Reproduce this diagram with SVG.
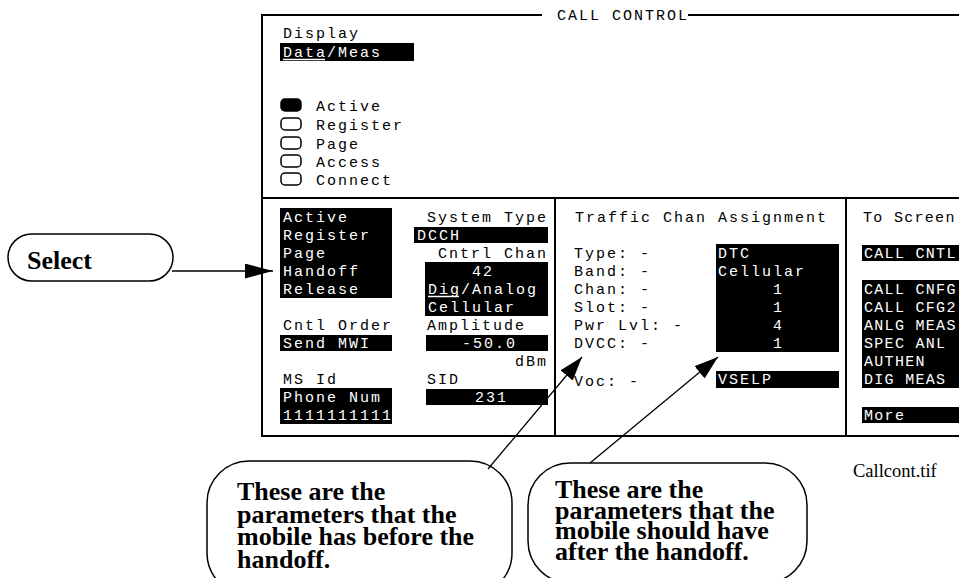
<svg xmlns="http://www.w3.org/2000/svg" width="959" height="578" viewBox="0 0 959 578">
<style>
.s{font-family:"Liberation Mono","DejaVu Sans Mono",monospace;font-size:15px;letter-spacing:2px;fill:#000}
.n{letter-spacing:1.3px}
.w{fill:#fff}
.fr{stroke:#000;stroke-width:2;fill:none}
.ul{stroke:#fff;stroke-width:1.5}
.rb{fill:#fff;stroke:#000;stroke-width:1.5}
.co{fill:#fff;stroke:#000;stroke-width:1.5}
.ct{font-family:"Liberation Serif","Times New Roman",serif;font-weight:bold;font-size:26px;fill:#000}
.ld{stroke:#000;stroke-width:1.3;fill:none}
</style>
<defs>
<marker id="ah" markerUnits="userSpaceOnUse" markerWidth="24" markerHeight="16" refX="24" refY="8" orient="auto"><path d="M0,0 L24,8 L0,16 z" fill="#000"/></marker>
<marker id="ah2" markerUnits="userSpaceOnUse" markerWidth="28" markerHeight="15" refX="28" refY="7.5" orient="auto"><path d="M0,0 L28,7.5 L0,15 z" fill="#000"/></marker>
</defs>

<g id="screen">
  <path class="fr" d="M262,15 H542 M688,15 H959 M262,14 V437 M262,198 H959 M262,436 H959 M555,198 V436 M846,198 V436"/>
  <text class="s" x="557" y="20">CALL CONTROL</text>

  <g id="display-section">
    <text class="s" x="283" y="38">Display</text>
    <rect x="280" y="43" width="134" height="18" fill="#000"/>
    <text class="s w" x="283" y="57">Data/Meas</text>
    <line class="ul" x1="283" y1="59.5" x2="325" y2="59.5"/>
    <rect x="281" y="99" width="20" height="12" rx="4" fill="#000" stroke="#000" stroke-width="1.5"/>
    <rect class="rb" x="281" y="118" width="20" height="12" rx="4"/>
    <rect class="rb" x="281" y="137" width="20" height="12" rx="4"/>
    <rect class="rb" x="281" y="155" width="20" height="12" rx="4"/>
    <rect class="rb" x="281" y="173" width="20" height="12" rx="4"/>
    <text class="s" x="316" y="110.5">Active</text>
    <text class="s" x="316" y="129.5">Register</text>
    <text class="s" x="316" y="148.5">Page</text>
    <text class="s" x="316" y="166.5">Access</text>
    <text class="s" x="316" y="184.5">Connect</text>
  </g>

  <g id="left-column">
    <rect x="280" y="208" width="112" height="90" fill="#000"/>
    <text class="s w" x="283" y="222">Active</text>
    <text class="s w" x="283" y="240">Register</text>
    <text class="s w" x="283" y="258">Page</text>
    <text class="s w" x="283" y="276">Handoff</text>
    <text class="s w" x="283" y="294">Release</text>
    <text class="s" x="283" y="330">Cntl Order</text>
    <rect x="280" y="335" width="112" height="16" fill="#000"/>
    <text class="s w" x="283" y="348">Send MWI</text>
    <text class="s" x="283" y="384">MS Id</text>
    <rect x="280" y="388" width="112" height="36" fill="#000"/>
    <text class="s w" x="283" y="402">Phone Num</text>
    <text class="s w" x="283" y="420">1111111111</text>
  </g>

  <g id="middle-column">
    <text class="s" x="427" y="222">System Type</text>
    <rect x="414" y="227" width="134" height="16" fill="#000"/>
    <text class="s w" x="417" y="240">DCCH</text>
    <text class="s" x="438" y="258">Cntrl Chan</text>
    <rect x="425" y="262" width="123" height="54" fill="#000"/>
    <text class="s w" x="472" y="276">42</text>
    <text class="s w" x="428" y="294">Dig/Analog</text>
    <line class="ul" x1="428" y1="296.5" x2="459" y2="296.5"/>
    <text class="s w" x="428" y="312">Cellular</text>
    <text class="s" x="427" y="330">Amplitude</text>
    <rect x="426" y="335" width="122" height="16" fill="#000"/>
    <text class="s w" x="462" y="348">-50.0</text>
    <text class="s" x="515" y="366">dBm</text>
    <text class="s" x="427" y="384">SID</text>
    <rect x="426" y="389" width="122" height="16" fill="#000"/>
    <text class="s w" x="475" y="402">231</text>
  </g>

  <g id="traffic-panel">
    <text class="s" x="575" y="222">Traffic Chan Assignment</text>
    <text class="s" x="574" y="258">Type: -</text>
    <text class="s" x="574" y="276">Band: -</text>
    <text class="s" x="574" y="294">Chan: -</text>
    <text class="s" x="574" y="312">Slot: -</text>
    <text class="s" x="574" y="330">Pwr Lvl: -</text>
    <text class="s" x="574" y="348">DVCC: -</text>
    <text class="s" x="574" y="386">Voc: -</text>
    <rect x="716" y="244" width="123" height="108" fill="#000"/>
    <text class="s w" x="718" y="258">DTC</text>
    <text class="s w" x="718" y="276">Cellular</text>
    <text class="s w" x="773" y="294">1</text>
    <text class="s w" x="773" y="312">1</text>
    <text class="s w" x="773" y="330">4</text>
    <text class="s w" x="773" y="348">1</text>
    <rect x="716" y="371" width="123" height="17" fill="#000"/>
    <text class="s w" x="718" y="384">VSELP</text>
  </g>

  <g id="to-screen">
    <text class="s n" x="863" y="222">To Screen</text>
    <rect x="862" y="245" width="97" height="16" fill="#000"/>
    <text class="s w n" x="864" y="258">CALL CNTL</text>
    <rect x="862" y="280" width="97" height="108" fill="#000"/>
    <text class="s w n" x="864" y="294">CALL CNFG</text>
    <text class="s w n" x="864" y="312">CALL CFG2</text>
    <text class="s w n" x="864" y="330">ANLG MEAS</text>
    <text class="s w n" x="864" y="348">SPEC ANL</text>
    <text class="s w n" x="864" y="366">AUTHEN</text>
    <text class="s w n" x="864" y="384">DIG MEAS</text>
    <rect x="862" y="407" width="97" height="16" fill="#000"/>
    <text class="s w n" x="864" y="420">More</text>
  </g>
</g>

<g id="select-callout">
  <rect class="co" x="8" y="234" width="165" height="47" rx="23.5"/>
  <text class="ct" x="27" y="269">Select</text>
</g>

<g id="before-callout">
  <rect class="co" x="207" y="461" width="305" height="134" rx="42" ry="42"/>
  <text class="ct"><tspan x="237" y="500">These are the</tspan><tspan x="237" y="522.7">parameters that the</tspan><tspan x="237" y="545.4">mobile has before the</tspan><tspan x="237" y="568">handoff.</tspan></text>
</g>

<g id="after-callout">
  <rect class="co" x="528" y="463" width="279" height="120" rx="42" ry="42"/>
  <text class="ct"><tspan x="555" y="498">These are the</tspan><tspan x="555" y="518.5">parameters that the</tspan><tspan x="555" y="539">mobile should have</tspan><tspan x="555" y="559.5">after the handoff.</tspan></text>
</g>

<g id="caption">
  <text x="853" y="477" font-family="Liberation Serif, Times New Roman, serif" font-size="18.5" fill="#000">Callcont.tif</text>
</g>

<g id="connectors">
  <line class="ld" x1="172" y1="271" x2="273" y2="271" stroke-width="2" marker-end="url(#ah2)"/>
  <line class="ld" x1="488" y1="469" x2="582" y2="357" marker-end="url(#ah)"/>
  <line class="ld" x1="590" y1="463" x2="718" y2="357" marker-end="url(#ah)"/>
</g>
</svg>
